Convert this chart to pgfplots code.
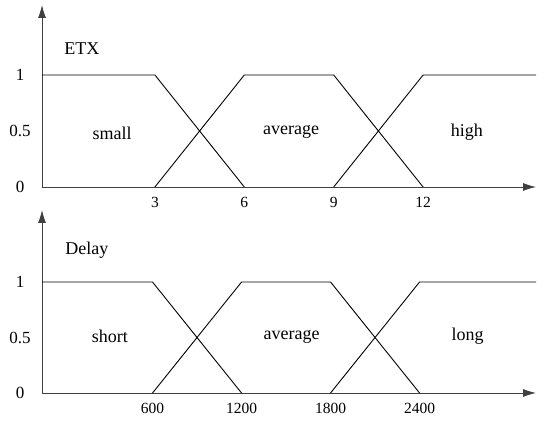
\documentclass[border=0pt]{standalone}
\usepackage{pgfplots}
\pgfplotsset{compat=1.18}
\usepackage{fontspec}
\setmainfont{Liberation Serif}
\usetikzlibrary{arrows.meta}
\tikzset{axarr/.style={black!75, line width=0.8pt, -{Latex[length=13pt,width=8pt]}}}
\begin{document}
\begin{tikzpicture}
\path[use as bounding box] (0pt,0pt) rectangle (543pt,420pt);
\pgfplotsset{myax/.style={
  scale only axis, axis lines=left, enlargelimits=false,
  axis line style={draw=none},
  major tick length=0pt, ymin=0, ytick={0,0.5,1}, yticklabels={0,0.5,1},
  scaled ticks=false,
  /pgf/number format/assume math mode=true,
  xticklabel style={anchor=center, yshift=-15pt, font=\fontsize{15.5}{18}\selectfont},
  yticklabel style={anchor=center, xshift=-22pt, font=\fontsize{17}{20}\selectfont},
  clip=false},
  fz/.style={black, line width=0.9pt, no marks}}
\begin{axis}[myax, at={(42pt,233pt)}, anchor=south west, width=494pt, height=182pt,
  xmin=-0.79, xmax=15.79, ymax=1.625, xtick={3,6,9,12}, xticklabels={3,6,9,12}]
\draw[axarr] (rel axis cs:0,0) -- (rel axis cs:1,0);
\draw[axarr] (rel axis cs:0,0) -- (rel axis cs:0,1);
\addplot[fz] coordinates {(-0.79,1)(3,1)(6,0)};
\addplot[fz] coordinates {(3,0)(6,1)(9,1)(12,0)};
\addplot[fz] coordinates {(9,0)(12,1)(15.79,1)};
\node[font=\fontsize{18}{20}\selectfont] at (0.55,1.24) {ETX};
\node[font=\fontsize{18}{20}\selectfont] at (1.56,0.48) {small};
\node[font=\fontsize{18}{20}\selectfont] at (7.57,0.49) {average};
\node[font=\fontsize{18}{20}\selectfont] at (13.47,0.49) {high};
\end{axis}
\begin{axis}[myax, at={(42pt,27pt)}, anchor=south west, width=494pt, height=183pt,
  xmin=-145, xmax=3185, ymax=1.649, xtick={600,1200,1800,2400}, xticklabels={600,1200,1800,2400}]
\draw[axarr] (rel axis cs:0,0) -- (rel axis cs:1,0);
\draw[axarr] (rel axis cs:0,0) -- (rel axis cs:0,1);
\addplot[fz] coordinates {(-145,1)(600,1)(1200,0)};
\addplot[fz] coordinates {(600,0)(1200,1)(1800,1)(2400,0)};
\addplot[fz] coordinates {(1800,0)(2400,1)(3185,1)};
\node[font=\fontsize{18}{20}\selectfont] at (158,1.29) {Delay};
\node[font=\fontsize{18}{20}\selectfont] at (313,0.51) {short};
\node[font=\fontsize{18}{20}\selectfont] at (1537,0.51) {average};
\node[font=\fontsize{18}{20}\selectfont] at (2724,0.51) {long};
\end{axis}
\end{tikzpicture}
\end{document}
